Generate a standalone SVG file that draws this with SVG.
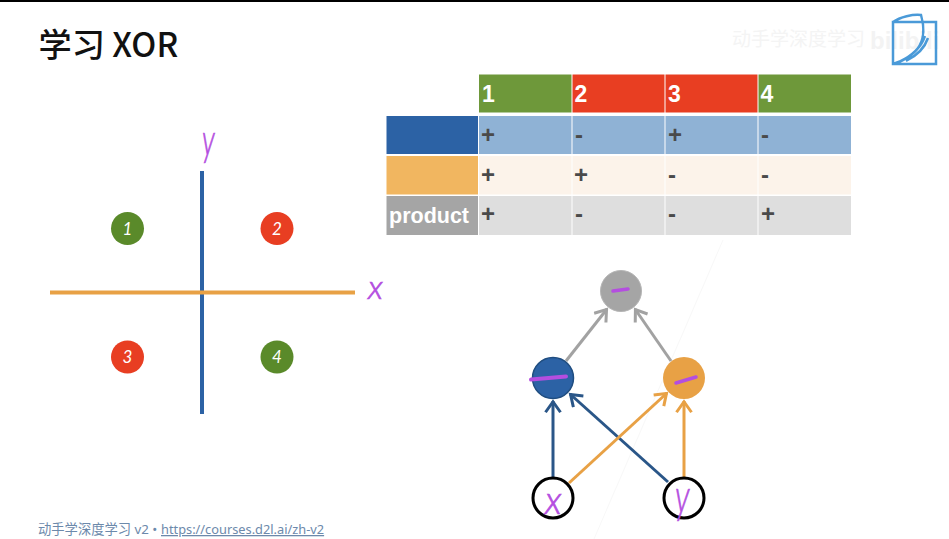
<svg xmlns="http://www.w3.org/2000/svg" width="949" height="539" viewBox="0 0 949 539">
<style>
.sans{font-family:"Liberation Sans",Arial,sans-serif}
.hd{font-family:"Liberation Sans",sans-serif;font-weight:700;font-size:23px;fill:#fff}
.sg{font-family:"Liberation Sans",sans-serif;font-weight:700;font-size:24px;fill:#4a4a4a}
.pen{font-family:"Lato",sans-serif;font-weight:300;font-style:italic;fill:#b44ee0;stroke:#b44ee0;stroke-width:.7px}
.num{font-family:"Lato",sans-serif;font-style:italic;font-size:17px;fill:#fff;text-anchor:middle}
.ink{fill:none;stroke:#b44ee0;stroke-linecap:round}
.gn{fill:#5a8a2a}.rd{fill:#e83e22}
</style>
<defs>
<marker id="aGrey" viewBox="0 0 12 12" refX="10.500" refY="6" markerWidth="18" markerHeight="18" markerUnits="userSpaceOnUse" orient="auto"><path d="M3 1L10 6L3 11" fill="none" stroke="#a2a2a2" stroke-width="2"/></marker>
<marker id="aBlue" viewBox="0 0 12 12" refX="10.500" refY="6" markerWidth="18" markerHeight="18" markerUnits="userSpaceOnUse" orient="auto"><path d="M3 1L10 6L3 11" fill="none" stroke="#2a5688" stroke-width="2"/></marker>
<marker id="aOrange" viewBox="0 0 12 12" refX="10.500" refY="6" markerWidth="18" markerHeight="18" markerUnits="userSpaceOnUse" orient="auto"><path d="M3 1L10 6L3 11" fill="none" stroke="#e8a145" stroke-width="2"/></marker>
</defs>
<rect width="949" height="539" fill="#fff"/>
<rect width="949" height="2" fill="#000"/>
<path d="M723 240L594 539" stroke="#f8f8f8" stroke-width="1" fill="none"/>
<text x="38.500" y="57" font-family="'Noto Sans CJK SC',sans-serif" font-weight="500" font-size="33.200" fill="#111">学习 XOR</text>
<g id="watermark">
<text x="732" y="46" font-family="'Noto Sans CJK SC',sans-serif" font-size="19" fill="#f4f4f4">动手学深度学习</text>
<text x="870" y="49" font-family="'Liberation Sans',sans-serif" font-weight="700" font-size="24" fill="#f3f3f3">bilibili</text>
<path d="M893 22H936V64H893ZM893 64C912 58 930 46 921 15C913 14 900 17 893 22M899 62C910 57 920 50 925 36M906 61C916 56 924 50 928 38" fill="none" stroke="#4a9ad8" stroke-width="2.500"/>
</g>
<g id="table">
<rect x="479" y="74.500" width="92.500" height="38" fill="#6e983a"/>
<rect x="572.500" y="74.500" width="92" height="38" fill="#e83e22"/>
<rect x="665.500" y="74.500" width="92" height="38" fill="#e83e22"/>
<rect x="758.500" y="74.500" width="92.500" height="38" fill="#6e983a"/>
<rect x="386.500" y="116" width="91.500" height="38" fill="#2c62a5"/>
<rect x="386.500" y="156" width="91.500" height="38.500" fill="#f1b660"/>
<rect x="386.500" y="196" width="91.500" height="39" fill="#a5a5a5"/>
<rect x="479" y="116" width="92.500" height="38" fill="#8fb2d5"/>
<rect x="572.500" y="116" width="92" height="38" fill="#8fb2d5"/>
<rect x="665.500" y="116" width="92" height="38" fill="#8fb2d5"/>
<rect x="758.500" y="116" width="92.500" height="38" fill="#8fb2d5"/>
<rect x="479" y="156" width="92.500" height="38.500" fill="#fcf3ea"/>
<rect x="572.500" y="156" width="92" height="38.500" fill="#fcf3ea"/>
<rect x="665.500" y="156" width="92" height="38.500" fill="#fcf3ea"/>
<rect x="758.500" y="156" width="92.500" height="38.500" fill="#fcf3ea"/>
<rect x="479" y="196" width="92.500" height="39" fill="#dedede"/>
<rect x="572.500" y="196" width="92" height="39" fill="#dedede"/>
<rect x="665.500" y="196" width="92" height="39" fill="#dedede"/>
<rect x="758.500" y="196" width="92.500" height="39" fill="#dedede"/>
<text class="hd" x="482" y="102">1</text><text class="hd" x="574.500" y="102">2</text><text class="hd" x="668" y="102">3</text><text class="hd" x="760.500" y="102">4</text>
<text class="sg" x="481" y="143">+</text><text class="sg" x="575" y="143">-</text><text class="sg" x="668" y="143">+</text><text class="sg" x="761" y="143">-</text>
<text class="sg" x="481" y="183">+</text><text class="sg" x="574" y="183">+</text><text class="sg" x="668" y="183">-</text><text class="sg" x="761" y="183">-</text>
<text class="sg" x="481" y="222">+</text><text class="sg" x="575" y="222">-</text><text class="sg" x="668" y="222">-</text><text class="sg" x="761" y="222">+</text>
<text class="sans" x="389" y="222.500" font-weight="700" font-size="21.500" fill="#fff">product</text>
</g>
<g id="axes">
<line x1="202" y1="171" x2="202" y2="414" stroke="#2c62a5" stroke-width="4"/>
<line x1="50" y1="292.500" x2="355" y2="292.500" stroke="#e8a145" stroke-width="4"/>
<text class="pen" font-size="44" transform="translate(202 155) scale(.62 1)">y</text>
<text class="pen" font-size="34" transform="translate(368 299)">x</text>
</g>
<g id="q1"><circle class="gn" cx="127.500" cy="228.500" r="16.500"/><text class="num" x="127.500" y="234.500">1</text></g>
<g id="q2"><circle class="rd" cx="277" cy="228.500" r="16.500"/><text class="num" x="277" y="234.500">2</text></g>
<g id="q3"><circle class="rd" cx="127.500" cy="357" r="16.500"/><text class="num" x="127.500" y="363">3</text></g>
<g id="q4"><circle class="gn" cx="277" cy="357" r="16.500"/><text class="num" x="277" y="363">4</text></g>
<g id="connectors" fill="none" stroke-width="3">
<line x1="566" y1="361" x2="607" y2="309" stroke="#a2a2a2" marker-end="url(#aGrey)"/>
<line x1="671" y1="361" x2="635" y2="309" stroke="#a2a2a2" marker-end="url(#aGrey)"/>
<line x1="553" y1="478" x2="553" y2="401" stroke="#2a5688" marker-end="url(#aBlue)"/>
<line x1="668" y1="482" x2="570" y2="394" stroke="#2a5688" marker-end="url(#aBlue)"/>
<line x1="569" y1="483" x2="667" y2="393" stroke="#e8a145" marker-end="url(#aOrange)"/>
<line x1="684" y1="478" x2="684" y2="401" stroke="#e8a145" marker-end="url(#aOrange)"/>
</g>
<g id="nProduct"><circle cx="621" cy="291" r="20.500" fill="#a5a5a5" stroke="#b5b5b5" stroke-width="1"/><path class="ink" d="M613 291L628 289" stroke-width="3.500"/></g>
<g id="nBlue"><circle cx="553" cy="378" r="20.500" fill="#2c62a5" stroke="#1f4d80" stroke-width="1.500"/><path class="ink" d="M531 379.500L566 376.500" stroke-width="4"/></g>
<g id="nOrange"><circle cx="684" cy="378" r="21" fill="#e8a145"/><path class="ink" d="M676 383L696 377" stroke-width="3.500"/></g>
<g id="nX"><circle cx="553" cy="498" r="20" fill="#fff" stroke="#000" stroke-width="3"/><text class="pen" font-size="40" transform="translate(545 514) scale(.95 1)">x</text></g>
<g id="nY"><circle cx="684" cy="498" r="20" fill="#fff" stroke="#000" stroke-width="3"/><text class="pen" font-size="48" transform="translate(675 513) scale(.65 1)">y</text></g>
<text x="38" y="534" font-family="'Noto Sans','Noto Sans CJK SC',sans-serif" font-size="13.300" fill="#6c89ab">动手学深度学习 v2 • <tspan x="161" font-size="12.800" text-decoration="underline">https://courses.d2l.ai/zh-v2</tspan></text>
</svg>
